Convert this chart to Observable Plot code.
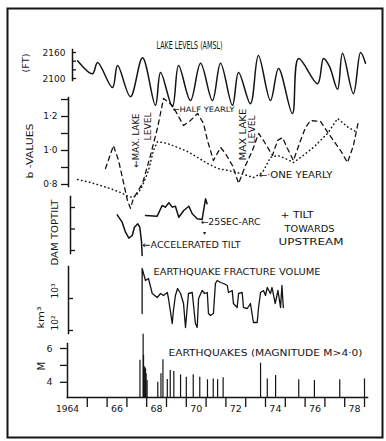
<!DOCTYPE html>
<html><head><meta charset="utf-8">
<script src="https://cdn.jsdelivr.net/npm/d3@7"></script>
<script src="https://cdn.jsdelivr.net/npm/@observablehq/plot@0.6"></script>
<style>
body{margin:0;background:#fff;}
#chart{position:relative;width:386px;height:441px;background:#fff;}
#chart svg{position:absolute;left:0;top:0;}
</style></head><body><div id="chart"></div>
<script>
// ---------- DATA ----------
const lakeYear  = [1964.51,1965.26,1965.52,1966.27,1966.53,1967.18,1967.79,1968.44,1968.70,1969.30,1969.61,1970.21,1970.72,1971.32,1971.73,1972.33,1972.64,1973.24,1973.64,1974.25,1974.66,1975.36,1975.67,1976.63,1976.93,1977.23,1977.64,1977.89,1978.44,1978.80,1979.05];
const lakeLevel = [2141,2111,2137,2079,2130,2058,2148,2038,2114,2035,2130,2049,2135,2049,2135,2038,2114,2042,2153,2049,2123,2019,2146,2088,2146,2128,2075,2158,2065,2160,2135];
const lakeTicks = [2100,2120,2140,2160];
const lakeTickLabels = [2100,2160];

const bHalfYear = [1965.92,1966.32,1966.58,1967.03,1967.18,1967.33,1967.79,1968.19,1968.55,1968.85,1969.30,1969.86,1970.21,1970.57,1970.87,1971.07,1971.37,1971.73,1971.98,1972.33,1972.64,1972.99,1973.34,1973.65,1973.90,1974.35,1974.61,1974.86,1975.11,1975.41,1975.77,1976.02,1976.27,1976.78,1977.18,1977.79,1978.14,1978.44,1978.70];
const bHalf     = [0.894,1.029,0.941,0.706,0.66,0.718,0.806,0.971,1.135,1.306,1.265,1.147,1.176,1.218,1.159,1.059,0.941,1.018,0.982,0.912,0.806,0.912,1.0,1.1,1.059,0.971,1.059,1.076,1.012,0.941,1.059,1.135,1.176,1.171,1.1,1.0,0.929,1.029,1.176];
const bOneYear  = [1964.51,1965.16,1965.67,1966.17,1966.68,1967.08,1967.33,1967.59,1967.79,1968.09,1968.34,1968.55,1969.05,1969.56,1970.06,1970.57,1971.07,1971.58,1972.13,1972.74,1973.39,1973.85,1974.25,1974.61,1975.01,1975.41,1975.77,1976.42,1977.13,1977.64,1978.19,1978.65];
const bOne      = [0.829,0.812,0.794,0.776,0.753,0.729,0.724,0.753,0.794,0.882,1.0,1.053,1.041,1.018,0.994,0.959,0.924,0.894,0.882,0.865,0.841,0.871,0.959,0.971,0.953,0.929,0.959,1.018,1.1,1.188,1.135,1.106];
const bTicks = [0.8,0.9,1.0,1.1,1.2,1.3];
const bTickLabels = [0.8,1.0,1.2];

const tiltYear = [1966.51,1966.76,1966.93,1967.10,1967.27,1967.38,1967.55,1967.65,1967.74,1967.77,1967.94,1968.53,1968.78,1968.94,1969.12,1969.29,1969.45,1969.62,1969.87,1970.13,1970.30,1970.55,1970.80,1970.97,1971.05];
const tiltSec  = [41.5,32.9,21.3,14.3,17.4,27.1,31.0,27.1,9.7,-5.8,40.7,39.9,52.3,50.4,55.5,50.4,51.5,38.7,46.5,51.5,42.7,36.9,36.1,60.1,54.3];
const tiltSeg  = [1,1,1,1,1,1,1,1,1,1,2,2,2,2,2,2,2,2,2,2,2,2,2,2,2];
const tiltTicks = [0,25,50];

const fracYear = [1967.77,1967.77,1967.94,1968.09,1968.28,1968.53,1968.70,1968.85,1969.04,1969.10,1969.29,1969.35,1969.45,1969.56,1969.71,1969.86,1969.96,1970.11,1970.30,1970.46,1970.55,1970.62,1970.80,1970.92,1971.06,1971.12,1971.22,1971.37,1971.47,1971.56,1971.73,1971.88,1972.07,1972.13,1972.32,1972.38,1972.57,1972.64,1972.82,1972.89,1973.08,1973.24,1973.39,1973.58,1973.65,1973.75,1973.90,1974.00,1974.09,1974.25,1974.33,1974.49,1974.63,1974.76,1974.83,1974.90];
const fracVol  = [340,8660,3652,4217,1433,1075,1433,1241,1540,1000,165,422,1241,2054,1433,698,124,1433,1540,165,124,1000,1778,1433,1540,340,294,340,2943,3652,3162,2943,2547,1540,1778,698,523,1433,1540,523,487,698,178,178,523,1540,1778,1241,2206,1433,2206,698,1778,523,2547,523];
const fracTicks = [100,1000];

const quakeYear = [1967.66,1967.82,1967.84,1967.86,1967.90,1967.94,1967.97,1968.02,1968.56,1968.72,1968.82,1969.04,1969.19,1969.37,1969.71,1970.00,1970.35,1970.68,1971.07,1971.36,1971.58,1971.86,1973.75,1974.09,1974.51,1975.68,1976.47,1977.75,1979.00];
const quakeMag  = [5.3,6.85,5.6,4.9,4.9,4.8,4.5,4.1,4.0,4.5,5.33,4.17,4.7,4.64,4.44,4.3,4.44,4.3,4.15,4.2,4.15,4.27,5.13,4.2,4.4,4.15,4.1,4.15,4.2];
const magTicks = [4,5,6];
const magTickLabels = [4,6];

const yearTicks = [1965,1966,1967,1968,1969,1970,1971,1972,1973,1974,1975,1976,1977,1978,1979];
const yearLabelAt = [1964.0,1966.5,1968.5,1970.5,1972.5,1974.5,1976.5,1978.5];
const yearLabels = ["1964","66","68","70","72","74","76","78"];

// ---------- STYLE ----------
const W = 386, H = 441, INK = "#141414";
const FONT = "'DejaVu Sans', 'Liberation Sans', sans-serif";
const textWidths = new Map([
  ["LAKE LEVELS (AMSL)",66],["(FT)",19],["b -VALUES",55],["←HALF YEARLY",62],
  ["←MAX. LAKE",54],["LEVEL",28],["MAX LAKE",52],["←·ONE YEARLY",74],
  ["DAM TOPTILT",66],["←25SEC-ARC",60],["←ACCELERATED TILT",98],["+ TILT",33],
  ["TOWARDS",50],["UPSTREAM",65],["EARTHQUAKE FRACTURE VOLUME",167],["km³",22],
  ["EARTHQUAKES (MAGNITUDE M>4·0)",194],["1964",23],["2160",23],["2100",23]
]);
const dotFmt = d => d.toFixed(1).replace(".", "·");

function panel(o) {
  const {x: xo = {}, y: yo = {}, ...rest} = o;
  return Plot.plot({
    width: W, height: H, marginRight: 0, ...rest,
    x: {domain: [1964, 1979], range: [67, 364], label: null, ...xo},
    y: {label: null, ...yo},
    style: {background: "transparent", fontFamily: FONT, fontSize: "9px", color: INK, overflow: "visible"}
  });
}

const lake = lakeYear.map((t, i) => ({t, v: lakeLevel[i]}));
const half = bHalfYear.map((t, i) => ({t, v: bHalf[i]}));
const one = bOneYear.map((t, i) => ({t, v: bOne[i]}));
const tilt = tiltYear.map((t, i) => ({t, v: tiltSec[i], s: tiltSeg[i]}));
const frac = fracYear.map((t, i) => ({t, v: fracVol[i]}));
const quakes = quakeYear.map((t, i) => ({t, m: quakeMag[i]}));
const yearLabelMap = new Map(yearLabelAt.map((t, i) => [t, yearLabels[i]]));

const plots = [];

// outer border
plots.push(Plot.plot({width: W, height: H, marginLeft: 7, marginTop: 8, marginRight: 4, marginBottom: 4,
  style: {background: "transparent"},
  marks: [Plot.frame({stroke: INK, strokeWidth: 2})]}));

// Lake levels
plots.push(panel({
  marginLeft: 72, marginTop: 49, marginBottom: 361,
  x: {axis: null},
  y: {domain: [2100, 2160], range: [78, 52]},
  marks: [
    Plot.frame({anchor: "left", stroke: INK, strokeWidth: 1.5}),
    Plot.axisY(lakeTicks, {label: null, tickSize: -4, tickFormat: () => "", stroke: INK, strokeWidth: 1.3}),
    Plot.axisY(lakeTickLabels, {label: null, tickSize: 0, tickPadding: 7, fontSize: 9.5, tickFormat: d => String(d)}),
    Plot.line(lake, {x: "t", y: "v", curve: "catmull-rom", stroke: INK, strokeWidth: 1.5}),
    Plot.text([{v: 2113.8, s: "(FT)"}], {y: "v", text: "s", frameAnchor: "left", dx: -46, rotate: -90, textAnchor: "start", fontSize: 8.5}),
    Plot.text([{t: 1970.16, v: 2176, s: "LAKE LEVELS (AMSL)"}], {x: "t", y: "v", text: "s", fontSize: 10})
  ]
}));

// b-values
plots.push(panel({
  marginLeft: 68, marginTop: 97, marginBottom: 255,
  x: {axis: null},
  y: {domain: [0.8, 1.2], range: [184, 116]},
  marks: [
    Plot.frame({anchor: "left", stroke: INK, strokeWidth: 1.5}),
    Plot.axisY(bTicks, {label: null, tickSize: 7, tickFormat: () => "", stroke: INK, strokeWidth: 1.3}),
    Plot.axisY(bTickLabels, {label: null, tickSize: 0, tickPadding: 11, fontSize: 9, tickFormat: dotFmt}),
    Plot.line(half, {x: "t", y: "v", stroke: INK, strokeWidth: 1.3, strokeDasharray: "4.5,4"}),
    Plot.line(one, {x: "t", y: "v", stroke: INK, strokeWidth: 1.5, strokeDasharray: "0.5,3.5", strokeLinecap: "round"}),
    Plot.text([{v: 0.835, s: "b -VALUES"}], {y: "v", text: "s", frameAnchor: "left", dx: -38.5, rotate: -90, textAnchor: "start", fontSize: 8}),
    Plot.text([{t: 1969.30, v: 1.241, s: "←HALF YEARLY"}], {x: "t", y: "v", text: "s", textAnchor: "start", fontSize: 7.5}),
    Plot.text([{t: 1973.65, v: 0.853, s: "←·ONE YEARLY"}], {x: "t", y: "v", text: "s", textAnchor: "start", fontSize: 8.5}),
    Plot.text([
      {t: 1967.48, v: 1.218, s: "←MAX. LAKE"},
      {t: 1968.04, v: 1.224, s: "LEVEL"},
      {t: 1972.84, v: 1.247, s: "MAX LAKE"},
      {t: 1973.34, v: 1.206, s: "LEVEL"}
    ], {x: "t", y: "v", text: "s", rotate: -90, textAnchor: "end", fontSize: 9.5})
  ]
}));

// Dam top tilt
plots.push(panel({
  marginLeft: 70, marginTop: 196, marginBottom: 188,
  x: {axis: null},
  y: {domain: [0, 50], range: [250, 207]},
  marks: [
    Plot.frame({anchor: "left", stroke: INK, strokeWidth: 1.5}),
    Plot.axisY(tiltTicks, {label: null, tickSize: -5, tickFormat: () => "", stroke: INK, strokeWidth: 1.3}),
    Plot.line(tilt, {x: "t", y: "v", z: "s", stroke: INK, strokeWidth: 1.5}),
    Plot.text([{v: -17.4, s: "DAM TOPTILT"}], {y: "v", text: "s", frameAnchor: "left", dx: -15, rotate: -90, textAnchor: "start", fontSize: 9}),
    Plot.text([
      {t: 1970.72, v: 33.1, s: "←25SEC-ARC", f: 8.5},
      {t: 1967.79, v: 7, s: "←ACCELERATED TILT", f: 9.5},
      {t: 1974.76, v: 41.3, s: "+ TILT", f: 8},
      {t: 1974.96, v: 25, s: "TOWARDS", f: 8},
      {t: 1974.66, v: 9.3, s: "UPSTREAM", f: 8}
    ], {x: "t", y: "v", text: "s", textAnchor: "start", fontSize: "f"}),
    Plot.text([{t: 1970.92, v: 19.8, s: "▾"}], {x: "t", y: "v", text: "s", fontSize: 6})
  ]
}));

// Earthquake fracture volume
plots.push(panel({
  marginLeft: 68, marginTop: 266, marginBottom: 108,
  x: {axis: null},
  y: {type: "log", domain: [100, 1000], range: [330, 298]},
  marks: [
    Plot.frame({anchor: "left", stroke: INK, strokeWidth: 1.5}),
    Plot.axisY(fracTicks, {label: null, tickSize: -5, tickFormat: () => "", stroke: INK, strokeWidth: 1.3}),
    Plot.text([{v: 1000, s: "10³"}, {v: 100, s: "10²"}], {y: "v", text: "s", frameAnchor: "left", dx: -13, rotate: -90, fontSize: 9}),
    Plot.text([{v: 115.5, s: "km³"}], {y: "v", text: "s", frameAnchor: "left", dx: -28, rotate: -90, textAnchor: "start", fontSize: 9.5}),
    Plot.line(frac, {x: "t", y: "v", stroke: INK, strokeWidth: 1.3}),
    Plot.text([{t: 1968.34, v: 6730, s: "EARTHQUAKE FRACTURE VOLUME"}], {x: "t", y: "v", text: "s", textAnchor: "start", fontSize: 9})
  ]
}));

// Earthquakes + time axis
plots.push(panel({
  marginLeft: 67, marginTop: 343, marginBottom: 44, marginRight: 19,
  y: {domain: [3.1, 6], range: [397, 348]},
  marks: [
    Plot.frame({anchor: "left", stroke: INK, strokeWidth: 1.5}),
    Plot.frame({anchor: "bottom", stroke: INK, strokeWidth: 1.6}),
    Plot.axisY(magTicks, {label: null, tickSize: 7, tickFormat: () => "", stroke: INK, strokeWidth: 1.3}),
    Plot.axisY(magTickLabels, {label: null, tickSize: 0, tickPadding: 15, fontSize: 9.5, tickFormat: d => String(d)}),
    Plot.text([{v: 4.7, s: "M"}], {y: "v", text: "s", frameAnchor: "left", dx: -26, rotate: -90, fontSize: 10}),
    Plot.ruleX(quakes, {x: "t", y1: 3.1, y2: "m", stroke: INK, strokeWidth: 1.2}),
    Plot.axisX(yearTicks, {label: null, tickSize: 10, tickFormat: () => "", stroke: INK, strokeWidth: 1.3}),
    Plot.axisX(yearLabelAt, {label: null, tickSize: 0, tickPadding: 8, fontSize: 9.5, tickFormat: d => yearLabelMap.get(d)}),
    Plot.text([{t: 1969.10, v: 5.73, s: "EARTHQUAKES (MAGNITUDE M>4·0)"}], {x: "t", y: "v", text: "s", textAnchor: "start", fontSize: 9.5})
  ]
}));

const chart = document.getElementById("chart");
for (const p of plots) {
  d3.select(p).selectAll("text").each(function() {
    const w = textWidths.get(this.textContent);
    if (w) { this.setAttribute("textLength", w); this.setAttribute("lengthAdjust", "spacingAndGlyphs"); }
  });
  chart.appendChild(p);
}
</script></body></html>
